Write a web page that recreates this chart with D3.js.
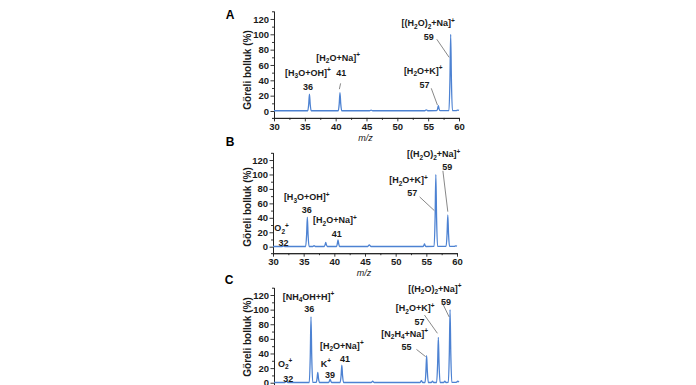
<!DOCTYPE html>
<html>
<head>
<meta charset="utf-8">
<script src="https://cdn.jsdelivr.net/npm/d3@7"></script>
<style>
body{margin:0;background:#fff;}
text{font-family:"Liberation Sans",Arial,sans-serif;}
</style>
</head>
<body>
<svg id="svgCanvas" width="696" height="385"></svg>
<script>
// spectra: [m/z, relative abundance %]
var specA = [[30,0.3],
	[35.47,0.3],[35.63,8.8],[35.75,22],[35.87,8.8],[36.03,0.3],
	[40.42,0.3],[40.58,9.6],[40.7,24],[40.82,9.6],[40.98,0.3],
	[45.5,0.3],[45.75,1.2],[46.0,0.3],
	[54.45,0.3],[54.7,1.5],[54.95,0.3],
	[56.37,0.4],[56.53,2.8],[56.65,7],[56.77,2.8],[56.93,0.4],
	[58.37,0.4],[58.53,40],[58.65,100],[58.77,40],[58.93,0.5],
	[59.5,0.5],[59.8,1.2],[60,0.8]];

var specB = [[30,0.3],
	[31.5,0.3],[31.7,1],[31.9,0.3],
	[35.32,0.3],[35.48,16.4],[35.6,41],[35.72,16.4],[35.88,0.3],
	[36.5,0.3],[36.7,1.5],[36.9,0.3],
	[38.35,0.3],[38.48,2.4],[38.6,6],[38.72,2.4],[38.85,0.3],
	[40.35,0.3],[40.48,3.8],[40.6,9.5],[40.72,3.8],[40.85,0.3],
	[45.45,0.3],[45.7,2.5],[45.95,0.3],
	[54.45,0.3],[54.58,1.5],[54.7,3.8],[54.82,1.5],[54.95,0.3],
	[56.27,0.4],[56.43,40],[56.55,100],[56.67,40],[56.83,0.4],
	[58.22,0.4],[58.38,17.6],[58.5,44],[58.62,17.6],[58.78,0.4],
	[59.55,0.4],[59.8,1.2],[60,0.8]];

var specC = [[30,0.3],
	[31.75,0.3],[32.0,2],[32.25,0.3],
	[35.72,0.3],[35.88,36],[36.0,90],[36.12,36],[36.28,0.5],
	[36.85,0.5],[36.98,5.6],[37.1,14],[37.22,5.6],[37.38,0.3],
	[38.85,0.3],[38.98,2],[39.1,5],[39.22,2],[39.35,0.3],
	[40.72,0.3],[40.88,9.6],[41.0,24],[41.12,9.6],[41.28,0.3],
	[45.75,0.3],[46.0,2],[46.25,0.3],
	[53.7,0.3],[53.9,3],[54.1,0.3],
	[54.5,0.3],[54.63,14.8],[54.75,37],[54.87,14.8],[55.03,0.3],
	[55.5,0.3],[55.7,2],[55.9,0.3],
	[56.37,0.3],[56.53,24.8],[56.65,62],[56.77,24.8],[56.93,0.3],
	[57.5,0.3],[57.7,2],[57.9,0.3],
	[58.27,0.4],[58.43,40],[58.55,100],[58.67,40],[58.83,0.5],
	[59.55,0.5],[59.8,2],[60,1]];

var xTicks = [30,35,40,45,50,55,60];
var yTicks = [0,20,40,60,80,100,120];
var yTitle = "Göreli bolluk (%)";
var xTitle = "m/z";

// annotations: text (_ sub, ^ sup) placed at [m/z, %]
var notesA = [
	["[H_3O+OH]^+",35.5,50],["36",35.5,31],
	["[H_2O+Na]^+",40.4,70],["41",40.9,50],
	["[(H_2O)_2+Na]^+",55.0,115],["59",55.1,97],
	["[H_2O+K]^+",54.2,52.5],["57",54.4,34]];
var leadersA = [[40.8,36,40.6,28.5],[56.4,93.5,58.4,70],[55.5,29.6,56.5,7.8]];

var notesB = [
	["O_2^+",31.4,25.5],["32",31.7,6],
	["[H_3O+OH]^+",35.5,69],["36",35.5,51],
	["[H_2O+Na]^+",40.1,37],["41",40.4,18.5],
	["[(H_2O)_2+Na]^+",56.2,128],["59",58.4,110],
	["[H_2O+K]^+",52.1,92],["57",52.7,74]];
var leadersB = [[53.9,69,56.3,50],[57.7,105,58.5,48.5]];

var notesC = [
	["O_2^+",31.8,26.5],["32",32.3,6],
	["[NH_4OH+H]^+",35.6,117.6],["36",35.7,101],
	["K^+",38.4,26.5],["39",39.1,10.5],
	["[H_2O+Na]^+",41.0,50.6],["41",41.5,33.4],
	["[N_2H_4+Na]^+",51.2,67.6],["55",51.5,49],
	["[H_2O+K]^+",52.9,102],["57",53.6,83.5],
	["[(H_2O)_2+Na]^+",56.1,129],["59",57.9,111]];
var leadersC = [[53.1,45.6,54.6,35.6],[54.4,92.6,56.5,67.6],[57.2,111,58.4,90]];

var svg = d3.select("#svgCanvas");
var lineColor = "#4d82d2";

drawPanel(svg, "A", specA, notesA, leadersA, {x0:274, x1:459, top:11.3, bottom:117.9, tag:[230,19], ytitle:70, xtitle:140.5, xlabels:true});
drawPanel(svg, "B", specB, notesB, leadersB, {x0:273, x1:457, top:152.8, bottom:253.2, tag:[230,146], ytitle:207, xtitle:275.5, xlabels:true});
// panel C is cropped at the bottom of the figure: x tick labels fall outside
drawPanel(svg, "C", specC, notesC, leadersC, {x0:274, x1:459, top:287.7, bottom:389.3, tag:[229,284], ytitle:337, xtitle:null, xlabels:false});

function drawPanel(svg, name, spec, notes, leaders, box){
	var x = d3.scaleLinear().domain([30,60]).range([box.x0, box.x1]);
	var y = d3.scaleLinear().domain([-9,130]).range([box.bottom, box.top]);
	var g = svg.append("g").attr("class","panel"+name);

	// minor ticks first, then major axes with labels
	var xMinor = d3.range(32.5, 60, 5);
	var yMinor = d3.range(10, 130, 20);
	g.append("g").attr("transform","translate(0,"+box.bottom+")")
		.call(d3.axisBottom(x).tickValues(xMinor).tickSize(2).tickFormat(""))
		.call(styleAxis);
	g.append("g").attr("transform","translate("+box.x0+",0)")
		.call(d3.axisLeft(y).tickValues(yMinor).tickSize(2).tickFormat(""))
		.call(styleAxis);
	var xAxis = d3.axisBottom(x).tickValues(xTicks).tickSize(3.5).tickPadding(1.5).tickSizeOuter(0);
	if(!box.xlabels) xAxis.tickFormat("");
	g.append("g").attr("transform","translate(0,"+box.bottom+")")
		.call(xAxis)
		.call(styleAxis);
	g.append("g").attr("transform","translate("+box.x0+",0)")
		.call(d3.axisLeft(y).tickValues(yTicks).tickSize(3.5).tickPadding(1.5).tickSizeOuter(0))
		.call(styleAxis);

	var line = d3.line()
		.x(function(d){ return x(d[0]); })
		.y(function(d){ return y(d[1]); })
		.curve(d3.curveMonotoneX);
	g.append("path").datum(spec)
		.attr("d", line)
		.attr("fill","none")
		.attr("stroke", lineColor)
		.attr("stroke-width", 1.3)
		.attr("stroke-linejoin","round");

	g.selectAll("line.leader").data(leaders).enter().append("line")
		.attr("class","leader")
		.attr("x1", function(d){ return x(d[0]); })
		.attr("y1", function(d){ return y(d[1]); })
		.attr("x2", function(d){ return x(d[2]); })
		.attr("y2", function(d){ return y(d[3]); })
		.attr("stroke","#555")
		.attr("stroke-width",0.7);

	notes.forEach(function(n){
		var t = g.append("text")
			.attr("x", x(n[1]))
			.attr("y", y(n[2]) + 3.2)
			.attr("text-anchor","middle")
			.attr("font-size","9px")
			.attr("font-weight","bold")
			.attr("fill","#1a1a1a");
		richText(t, n[0]);
	});

	g.append("text")
		.attr("x", box.tag[0]).attr("y", box.tag[1])
		.attr("text-anchor","middle")
		.attr("font-size","12px").attr("font-weight","bold")
		.text(name);

	g.append("text")
		.attr("transform","translate(251,"+box.ytitle+") rotate(-90)")
		.attr("text-anchor","middle")
		.attr("font-size","10px").attr("font-weight","bold")
		.attr("fill","#1a1a1a")
		.text(yTitle);

	if(box.xtitle != null){
		g.append("text")
			.attr("x", (box.x0+box.x1)/2 - 1).attr("y", box.xtitle)
			.attr("text-anchor","middle")
			.attr("font-size","9px").attr("font-style","italic")
			.attr("fill","#1a1a1a")
			.text(xTitle);
	}
}

function styleAxis(sel){
	sel.select(".domain").attr("stroke","#222").attr("stroke-width",1);
	sel.selectAll(".tick line").attr("stroke","#222").attr("stroke-width",0.9);
	sel.selectAll(".tick text")
		.attr("font-family","'Liberation Sans',Arial,sans-serif")
		.attr("font-size","9.5px")
		.attr("font-weight","bold")
		.attr("fill","#1a1a1a");
}

// "[H_2O]^+" -> tspans with sub/superscripts
function richText(sel, str){
	var parts = [], buf = "", i = 0;
	while(i < str.length){
		var ch = str[i];
		if(ch == "_" || ch == "^"){
			if(buf) parts.push({t:buf, k:0});
			buf = "";
			parts.push({t:str[i+1], k:(ch == "_" ? 2.5 : -3.5)});
			i += 2;
		} else { buf += ch; i++; }
	}
	if(buf) parts.push({t:buf, k:0});
	var shift = 0;
	parts.forEach(function(p){
		var ts = sel.append("tspan").attr("dy", p.k - shift).text(p.t);
		if(p.k != 0) ts.attr("font-size","6.5px");
		shift = p.k;
	});
}
</script>
</body>
</html>
